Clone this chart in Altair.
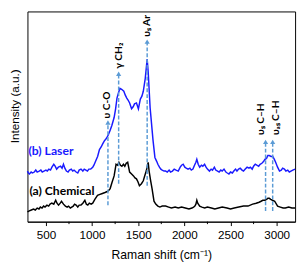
import altair as alt
import pandas as pd

# ---- data ----
laser_shift = [300, 310, 321, 340, 355, 374, 390, 405, 427, 445, 460, 479, 500, 515, 532, 550, 565,
               585, 600, 616, 635, 659, 675, 690, 705, 722, 740, 755, 775, 790, 805, 827, 845,
               860, 880, 900, 915, 933, 950, 965, 985, 1007, 1020, 1038, 1060, 1080, 1100,
               1115, 1133, 1150, 1165, 1180, 1196, 1215, 1239, 1255, 1270, 1285, 1302, 1320,
               1344, 1360, 1376, 1390, 1407, 1428, 1445, 1460, 1481, 1502, 1523, 1540, 1555,
               1576, 1597, 1608, 1629, 1660, 1681, 1700, 1713, 1730, 1745, 1760, 1780, 1797,
               1815, 1835, 1850, 1871, 1890, 1910, 1934, 1955, 1970, 1987, 2005, 2020, 2040,
               2060, 2075, 2093, 2110, 2125, 2135, 2150, 2166, 2185, 2200, 2219, 2235, 2250,
               2272, 2290, 2305, 2325, 2340, 2360, 2377, 2395, 2410, 2430, 2450, 2465, 2483,
               2500, 2520, 2536, 2555, 2570, 2588, 2605, 2625, 2641, 2660, 2680, 2700, 2715,
               2735, 2750, 2768, 2785, 2805, 2821, 2840, 2860, 2873, 2890, 2905, 2920, 2940,
               2958, 2975, 2989, 3010, 3031, 3050, 3065, 3084, 3100, 3120, 3137, 3155, 3175,
               3200]
laser_int = [52, 50, 49, 51, 50, 51, 53, 51, 52, 53, 51, 52, 53, 52, 54, 53, 56,
             59, 57, 54, 56, 57, 55, 59, 55, 52, 51, 53, 54, 52, 53, 51, 50,
             53, 54, 52, 54, 53, 52, 54, 54, 56, 58, 62, 67, 74, 77,
             80, 83, 85, 87, 90, 94, 99, 107, 116, 127, 132, 137, 136,
             134, 130, 127, 125, 122, 116, 118, 121, 122, 116, 126, 129, 134,
             147, 167, 154, 117, 84, 66, 62, 59, 56, 54, 53, 52, 52,
             51, 53, 51, 52, 54, 53, 52, 56, 58, 59, 56, 55, 54,
             55, 53, 54, 58, 61, 64, 59, 56, 58, 57, 59, 56, 54,
             52, 54, 53, 56, 53, 52, 51, 53, 52, 54, 51, 50, 49,
             51, 50, 52, 54, 52, 54, 55, 53, 52, 54, 56, 55, 56,
             54, 57, 59, 58, 57, 59, 60, 62, 64, 65, 68, 68, 67,
             67, 64, 61, 56, 52, 53, 55, 54, 52, 53, 51, 52, 53,
             54]

chem_shift = [300, 320, 342, 365, 385, 405, 425, 440, 458, 475, 490, 511, 530, 545, 564, 585,
              606, 620, 637, 655, 669, 690, 711, 730, 745, 764, 780, 796, 810, 827, 845, 860,
              880, 900, 922, 938, 954, 970, 990, 1007, 1030, 1059, 1085, 1112, 1140, 1165,
              1180, 1196, 1215, 1239, 1260, 1275, 1291, 1308, 1323, 1340, 1355, 1370, 1386,
              1407, 1428, 1449, 1465, 1481, 1497, 1513, 1535, 1555, 1570, 1587, 1608, 1618,
              1635, 1650, 1671, 1690, 1713, 1735, 1760, 1797, 1830, 1860, 1900, 1934, 1970,
              2010, 2050, 2082, 2100, 2114, 2125, 2135, 2145, 2166, 2190, 2220, 2250, 2293,
              2330, 2370, 2410, 2462, 2500, 2540, 2590, 2641, 2690, 2740, 2778, 2810, 2831,
              2850, 2873, 2890, 2905, 2920, 2936, 2955, 2979, 3010, 3040, 3070, 3094, 3130,
              3165, 3200]
chem_int = [10, 11, 12, 13, 12, 14, 13, 15, 14, 16, 15, 17, 16, 18, 19, 18,
            22, 19, 17, 19, 21, 18, 16, 15, 16, 14, 15, 16, 18, 17, 15, 17,
            17, 19, 22, 18, 17, 19, 18, 19, 23, 27, 28, 29, 30, 31,
            32, 34, 40, 47, 59, 58, 61, 58, 57, 59, 57, 60, 61,
            51, 49, 47, 45, 44, 41, 37, 39, 42, 47, 52, 61, 52,
            42, 34, 21, 18, 16, 15, 16, 16, 15, 14, 15, 14, 15,
            14, 13, 14, 15, 16, 18, 22, 19, 16, 15, 14, 15, 14,
            13, 14, 15, 14, 13, 14, 15, 16, 16, 18, 19, 20, 21,
            22, 22, 23, 24, 24, 23, 22, 21, 16, 15, 14, 14, 15,
            14, 14]

band_names = ["υ C-O", "γ CH₂", "υₛ Ar", "υₛ C–H", "υₐₛ C–H"]
band_shift = [1172, 1288, 1597, 2880, 2957]
band_base = [17, 39, 37, 11, 11]
band_tip = [102, 152, 185, 82, 82]
label_shift = [1165, 1291, 1597, 2831, 2989]
label_base = [106, 157, 190, 89, 89]

series_names = ["(b) Laser", "(a) Chemical"]
series_label_shift = [310, 321]
series_label_int = [72, 31]

major_ticks = [500, 1000, 1500, 2000, 2500, 3000]
minor_ticks = [750, 1250, 1750, 2250, 2750]

BLUE = "#1a1aff"
ARROW = "#5b9bd5"

laser = pd.DataFrame({"x": laser_shift, "y": laser_int})
chem = pd.DataFrame({"x": chem_shift, "y": chem_int})
bands = pd.DataFrame({"x": band_shift, "y": band_base, "y2": band_tip, "name": band_names,
                      "lx": label_shift, "ly": label_base})
series = pd.DataFrame({"x": series_label_shift, "y": series_label_int, "name": series_names,
                       "c": [BLUE, "black"]})
minor = pd.DataFrame({"x": minor_ticks})

xscale = alt.Scale(domain=[300, 3200], nice=False, zero=False)
yscale = alt.Scale(domain=[0, 216], nice=False, zero=False)
xaxis = alt.Axis(title="Raman shift (cm⁻¹)", values=major_ticks, format="d")
yaxis = alt.Axis(title="Intensity (a.u.)", labels=False, ticks=False, domain=False,
                 titleY=97, titleAnchor="middle", titlePadding=6)


def X(field="x"):
    return alt.X(f"{field}:Q", scale=xscale, axis=xaxis)


def Y(field="y"):
    return alt.Y(f"{field}:Q", scale=yscale, axis=yaxis)


laser_line = alt.Chart(laser).mark_line(color=BLUE, strokeWidth=1.5).encode(x=X(), y=Y())
chem_line = alt.Chart(chem).mark_line(color="black", strokeWidth=1.5).encode(x=X(), y=Y())

rules = alt.Chart(bands).mark_rule(color=ARROW, strokeWidth=1.5, strokeDash=[4, 2]).encode(
    x=X(), y=Y(), y2="y2:Q")
heads = alt.Chart(bands).mark_point(shape="triangle-up", filled=True, color=ARROW, size=28,
                                    opacity=1).encode(x=X(), y=Y("y2"))
band_text = alt.Chart(bands).mark_text(angle=270, align="left", baseline="middle",
                                       font="Lato", fontSize=10.5, fontWeight="bold",
                                       color="black").encode(
    x=X("lx"), y=Y("ly"), text="name:N")
series_text = alt.Chart(series).mark_text(align="left", baseline="middle", font="Lato",
                                          fontSize=12.5, fontWeight="bold").encode(
    x=X(), y=Y(), text="name:N", color=alt.Color("c:N", scale=None))
minor_rules = alt.Chart(minor).mark_rule(color="black", strokeWidth=1).encode(
    x=X(), y=alt.value(216), y2=alt.value(218.5))

chart = alt.layer(laser_line, chem_line, rules, heads, band_text, series_text, minor_rules).properties(
    width=275, height=216,
    autosize=alt.AutoSizeParams(type="none"),
    padding={"left": 20, "top": 0, "right": 4, "bottom": 42},
).configure_view(stroke="black", strokeWidth=1).configure_axis(
    grid=False, domainColor="black", tickColor="black", labelColor="black", titleColor="black",
    labelFont="Liberation Sans", titleFont="Liberation Sans", labelFontSize=12,
    titleFontSize=12.5, titleFontWeight="normal", tickSize=4, labelPadding=4,
).configure_axisY(titleFontSize=12).configure_axisX(titlePadding=9)

chart.save("out.html", embed_options={"renderer": "svg", "actions": False})
